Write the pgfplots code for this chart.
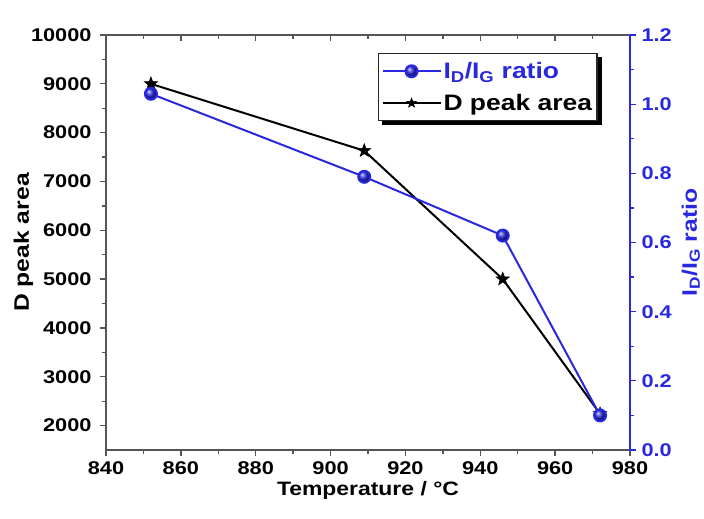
\documentclass[border=0pt]{standalone}
\usepackage{fontspec}
\setmainfont{Liberation Sans}[FakeStretch=1.18]
\usepackage{pgfplots}
\pgfplotsset{compat=1.18}
\usetikzlibrary{backgrounds}

\definecolor{ratioblue}{RGB}{40,40,225}
\definecolor{framegray}{RGB}{85,85,85}

% filled five-pointed star
\pgfdeclareplotmark{fstar}{%
  \pgfpathmoveto{\pgfqpointpolar{90}{\pgfplotmarksize}}%
  \pgfpathlineto{\pgfqpointpolar{126}{0.42\pgfplotmarksize}}%
  \pgfpathlineto{\pgfqpointpolar{162}{\pgfplotmarksize}}%
  \pgfpathlineto{\pgfqpointpolar{198}{0.42\pgfplotmarksize}}%
  \pgfpathlineto{\pgfqpointpolar{234}{\pgfplotmarksize}}%
  \pgfpathlineto{\pgfqpointpolar{270}{0.42\pgfplotmarksize}}%
  \pgfpathlineto{\pgfqpointpolar{306}{\pgfplotmarksize}}%
  \pgfpathlineto{\pgfqpointpolar{342}{0.42\pgfplotmarksize}}%
  \pgfpathlineto{\pgfqpointpolar{18}{\pgfplotmarksize}}%
  \pgfpathlineto{\pgfqpointpolar{54}{0.42\pgfplotmarksize}}%
  \pgfpathclose\pgfusepathqfillstroke}

\pgfplotsset{
  common/.style={
    at={(0,0)}, anchor=south west, scale only axis,
    width=524bp, height=415bp,
    xmin=840, xmax=980,
    /pgf/number format/assume math mode=true,
    /pgf/number format/1000 sep={},
    scaled ticks=false,
    tick label style={font=\fontsize{18.5}{20}\selectfont\bfseries},
    label style={font=\fontsize{21}{24}\selectfont\bfseries},
    major tick length=6bp, minor tick length=3.5bp,
  },
}

\begin{document}
\begin{tikzpicture}
\useasboundingbox (-106bp,-69bp) rectangle (598bp,450bp);

% left axis: D peak area
\begin{axis}[common,
  ymin=1500, ymax=10000,
  xtick={840,860,880,900,920,940,960,980}, minor x tick num=1,
  ytick={2000,3000,4000,5000,6000,7000,8000,9000,10000}, minor y tick num=1,
  xtick pos=bottom, ytick pos=left, tick align=outside,
  axis line style={framegray, line width=1.3bp},
  tick style={framegray, line width=1.3bp},
  yticklabel style={xshift=-5bp},
  xticklabel style={yshift=-2bp},
  xlabel={Temperature / °C},
  ylabel={D peak area},
  xlabel style={font=\fontsize{19.5}{22}\selectfont\bfseries},
  ylabel style={yshift=-9bp},
]
\addplot[black, line width=2bp, mark=fstar, mark size=7bp,
  mark options={fill=black, line width=0.5bp}]
  coordinates {(852,9000) (909,7630) (946,5000) (972,2240)};
\end{axis}

% inward ticks along the top edge
\begin{axis}[common,
  ymin=1500, ymax=10000,
  axis x line*=top, axis y line=none,
  xtick={840,860,880,900,920,940,960,980}, minor x tick num=1,
  xticklabels={}, tick align=inside,
  axis line style={framegray, line width=1.3bp},
  tick style={framegray, line width=1.3bp},
]
\end{axis}

% right axis: ID/IG ratio
\begin{axis}[common,
  ymin=0, ymax=1.2,
  axis y line*=right, axis x line=none,
  ytick={0,0.2,0.4,0.6,0.8,1.0,1.2}, minor y tick num=1,
  yticklabel style={/pgf/number format/fixed,
    /pgf/number format/fixed zerofill,
    /pgf/number format/precision=1, ratioblue, xshift=2bp},
  tick align=outside,
  y axis line style={ratioblue, line width=1.3bp},
  ytick style={ratioblue, line width=1.3bp},
  ylabel={I\textsubscript{D}/I\textsubscript{G} ratio},
  ylabel style={ratioblue, yshift=-3bp},
  legend cell align=left,
  legend image code/.code={%
    \draw[mark repeat=2, mark phase=2, #1]
      plot coordinates {(0bp,0bp) (29bp,0bp) (58bp,0bp)};},
  legend style={name=lgd, at={(0.519,0.957)}, anchor=north west,
    draw=black!85, line width=1.2bp, fill=white,
    font=\fontsize{22.5}{26}\selectfont\bfseries,
    inner xsep=3bp, inner ysep=7bp, row sep=10bp},
]
\addplot[ratioblue, line width=2bp, mark=ball, mark size=6bp,
  mark options={ball color=ratioblue}]
  coordinates {(852,1.03) (909,0.79) (946,0.62) (972,0.10)};
\addlegendentry{\textcolor{ratioblue}{I\textsubscript{D}/I\textsubscript{G} ratio}}
\addlegendimage{black, line width=2bp, mark=fstar, mark size=5bp,
  mark options={fill=black, line width=0.5bp}}
\addlegendentry{D peak area}
\end{axis}

% solid shadow behind the legend box
\begin{scope}[on background layer]
  \fill[black] ([shift={(4bp,-4bp)}]lgd.south west)
    rectangle ([shift={(4bp,-4bp)}]lgd.north east);
\end{scope}
\end{tikzpicture}
\end{document}
